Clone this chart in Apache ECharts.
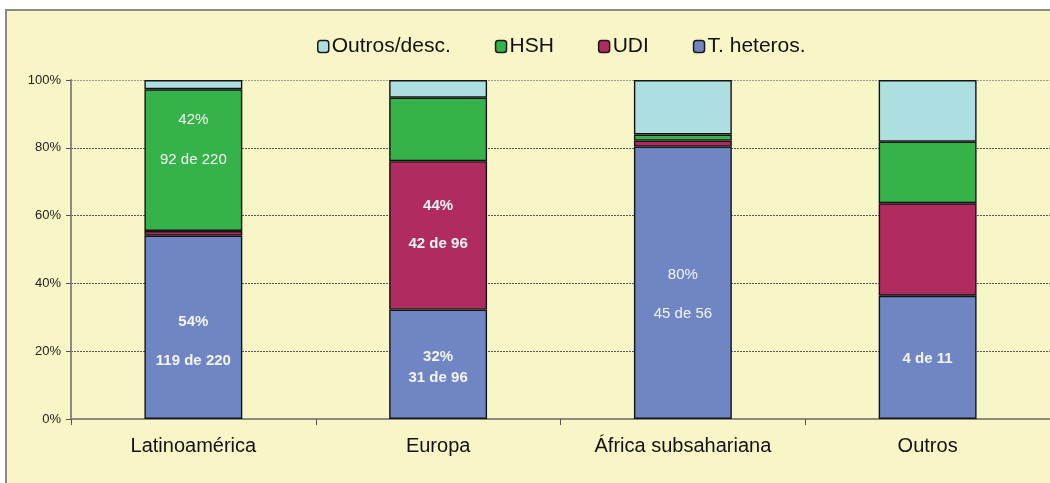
<!DOCTYPE html>
<html>
<head>
<meta charset="utf-8">
<script src="https://cdn.jsdelivr.net/npm/echarts@6/dist/echarts.min.js"></script>
<style>
  html, body { margin: 0; padding: 0; background: #fff; }
  #frame {
    position: absolute; left: 5px; top: 9px; width: 1060px; height: 490px;
    background: #f8f6c6; border-top: 2px solid #8a8a80; border-left: 2px solid #8a8a80;
  }
  #chart { position: absolute; left: 0; top: 0; width: 1050px; height: 483px; }
</style>
</head>
<body>
<div id="frame"></div>
<div id="chart"></div>
<script>
// categorias e contagens (casos) por via de transmissão
const categories = ['Latinoamérica', 'Europa', 'África subsahariana', 'Outros']
const totals = [220, 96, 56, 11]
const heteros = [119, 31, 45, 4]
const udi = [3, 42, 1, 3]
const hsh = [92, 18, 1, 2]
const outros = [6, 5, 9, 2]
const yTicks = ['0%', '20%', '40%', '60%', '80%', '100%']

// rótulos dentro das barras: [série, categoria, texto, deslocamento y, altura de linha, negrito]
const barLabels = [
  ['T. heteros.', 0, '54%\n119 de 220', 14, 39, true],
  ['HSH', 0, '42%\n92 de 220', -20, 40, false],
  ['UDI', 1, '44%\n42 de 96', -11, 38, true],
  ['T. heteros.', 1, '32%\n31 de 96', 3, 21, true],
  ['T. heteros.', 2, '80%\n45 de 56', 12, 39, false],
  ['T. heteros.', 3, '4 de 11', 1, 20, true]
]

const colors = {
  'T. heteros.': '#7086c4',
  'UDI': '#b02b60',
  'HSH': '#36b24b',
  'Outros/desc.': '#addfe0'
}

const font = "'Liberation Sans Narrow', 'Arial Narrow', 'Liberation Sans', Arial, sans-serif"

const makeSeries = (name, counts) => ({
  name,
  type: 'bar',
  stack: 'total',
  barWidth: '40%',
  itemStyle: { color: colors[name], borderColor: '#141414', borderWidth: 1.4 },
  data: counts.map((c, i) => {
    const item = { value: c / totals[i] * 100 }
    const lab = barLabels.find(l => l[0] === name && l[1] === i)
    if (lab) {
      item.label = {
        show: true,
        position: 'inside',
        formatter: lab[2],
        offset: [0, lab[3]],
        lineHeight: lab[4],
        color: '#f4f4f4',
        fontSize: 15,
        fontFamily: font,
        fontWeight: lab[5] ? 'bold' : 'normal'
      }
    }
    return item
  })
})

const chart = echarts.init(document.getElementById('chart'))
chart.setOption({
  backgroundColor: 'transparent',
  animation: false,
  legend: {
    top: 31,
    left: 312,
    itemGap: 44,
    itemWidth: 11,
    itemHeight: 12,
    itemStyle: { borderColor: '#1a1a1a', borderWidth: 1.5 },
    textStyle: { fontFamily: font, fontSize: 21, color: '#111', padding: [0, 0, 0, -2] },
    data: ['Outros/desc.', 'HSH', 'UDI', 'T. heteros.']
  },
  grid: { left: 71, right: -5, top: 80, bottom: 64, containLabel: false },
  xAxis: {
    type: 'category',
    data: categories,
    axisLine: { lineStyle: { color: '#8a8a80', width: 2 } },
    axisTick: { show: true, length: 6, lineStyle: { color: '#555', width: 1 } },
    axisLabel: { fontFamily: font, fontSize: 20, color: '#111', margin: 17 }
  },
  yAxis: {
    type: 'value',
    min: 0,
    max: 100,
    interval: 20,
    axisLine: { show: true, lineStyle: { color: '#8a8a80', width: 2 } },
    axisTick: { show: true, length: 5, lineStyle: { color: '#555' } },
    axisLabel: {
      fontFamily: font, fontSize: 13, color: '#222', margin: 10,
      formatter: (v) => yTicks[Math.round(v / 20)]
    },
    splitLine: {
      show: true,
      lineStyle: {
        color: ['#8a8a80', '#555', '#555', '#555', '#555', '#9a9a90'],
        type: [2, 1],
        width: 1
      }
    }
  },
  series: [
    makeSeries('T. heteros.', heteros),
    makeSeries('UDI', udi),
    makeSeries('HSH', hsh),
    makeSeries('Outros/desc.', outros)
  ]
})
</script>
</body>
</html>
